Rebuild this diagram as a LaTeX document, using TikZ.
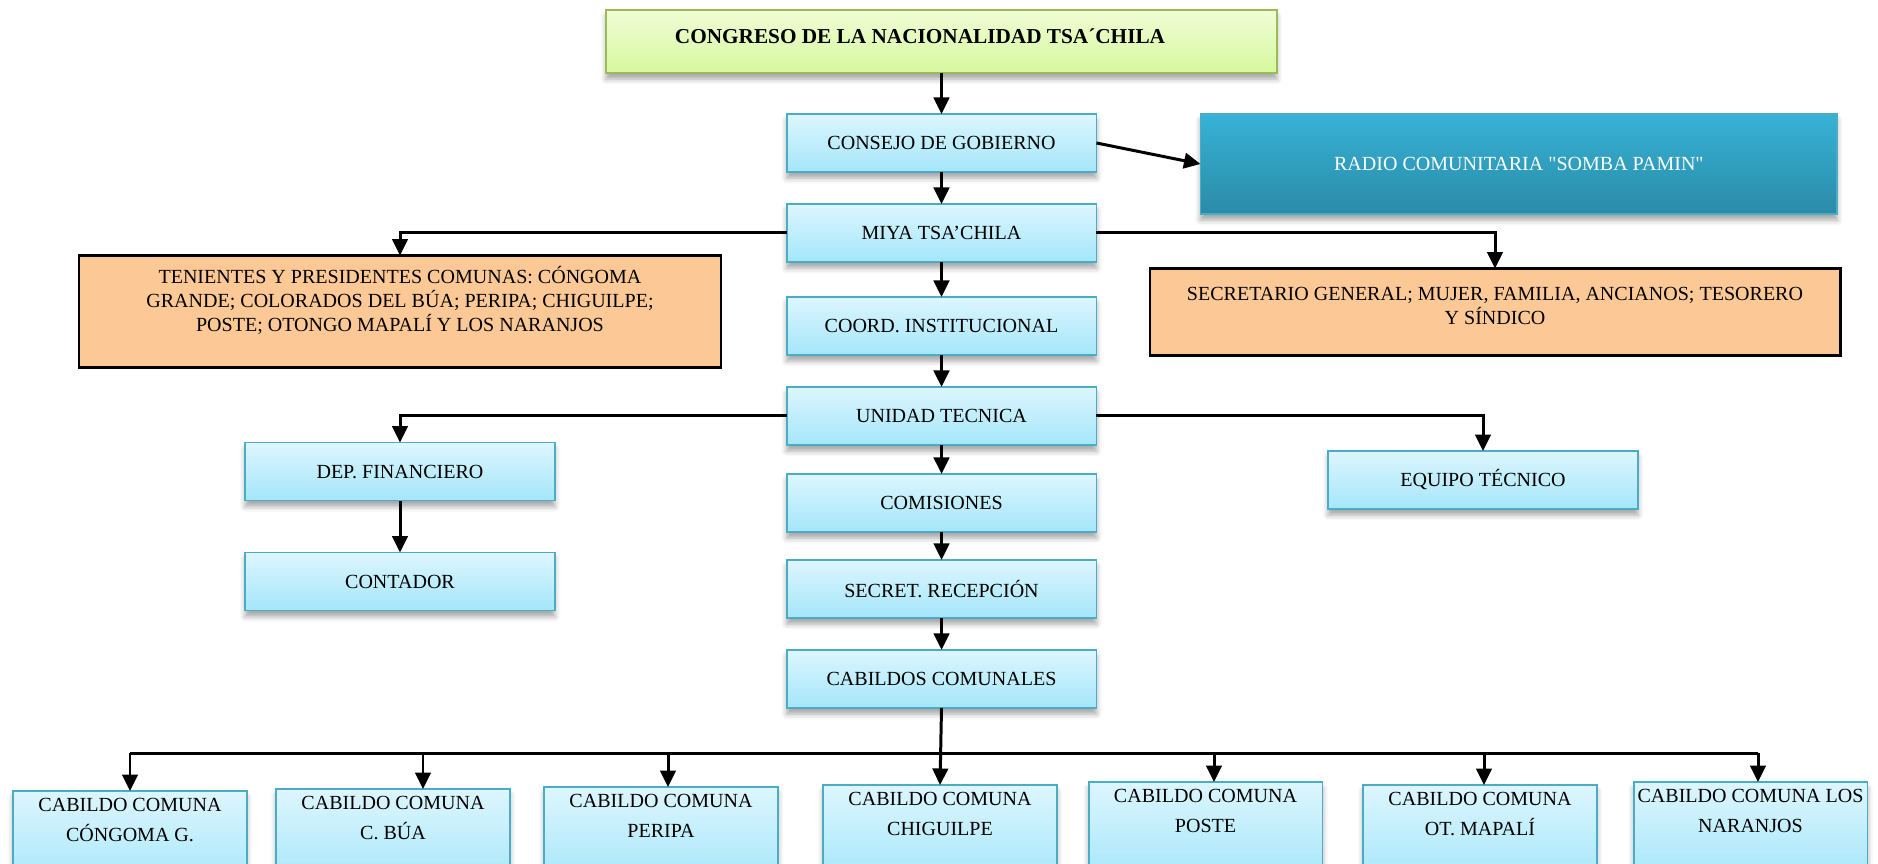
\documentclass[tikz,border=0pt]{standalone}
\usepackage{fontspec}
\setmainfont{Liberation Serif}
\newfontfamily\recta{Liberation Serif}
\usetikzlibrary{positioning,arrows.meta,shadows.blur}
\definecolor{celeste}{HTML}{A4E6FA}
\definecolor{celesteclaro}{HTML}{DDF6FE}
\definecolor{bordeceleste}{HTML}{4BACC6}
\definecolor{limon}{HTML}{D6F89E}
\definecolor{limonclaro}{HTML}{F0FDD6}
\definecolor{bordelimon}{HTML}{9BBB59}
\definecolor{durazno}{HTML}{FCC996}
\definecolor{radioarriba}{HTML}{37B2D6}
\definecolor{radioabajo}{HTML}{2A8BA7}
\tikzset{
  sombra/.style={blur shadow={shadow xshift=0pt,shadow yshift=-3.5pt,shadow blur radius=3pt,shadow opacity=35}},
  caja/.style={rectangle,draw=bordeceleste,line width=1.1pt,top color=celesteclaro,bottom color=celeste,
    minimum width=6.2cm,minimum height=1.16cm,inner sep=0pt,outer sep=0pt,align=center,sombra},
  cabildo/.style={rectangle,draw=bordeceleste,line width=1.1pt,top color=celesteclaro,bottom color=celeste,
    inner sep=0pt,outer sep=0pt,sombra},
  cajanaranja/.style={rectangle,draw=black,line width=1.2pt,fill=durazno,inner sep=0pt,outer sep=0pt},
  flecha/.style={-{Triangle[length=0.33cm,width=0.31cm]},line width=1.7pt},
  linea/.style={line width=1.7pt}
}
\begin{document}
\begin{tikzpicture}[x=0.02cm,y=-0.02cm,font=\fontsize{11.4}{13.7}\selectfont]
\useasboundingbox (0,0) rectangle (1878,863);
% columna central
\node (congreso) [rectangle,draw=bordelimon,line width=1.1pt,top color=limonclaro,bottom color=limon,inner sep=0pt,outer sep=0pt,sombra]
  at (941.5,41.5) {\parbox[c][1.26cm][t]{13.42cm}{\vspace*{0.38cm}\centering\fontsize{12.1}{14}\selectfont\bfseries CONGRESO DE LA NACIONALIDAD TSA´CHILA\hspace*{0.86cm}}};
\node (consejo) [caja, below=0.82cm of congreso] {CONSEJO DE GOBIERNO};
\node (miya) [caja, below=0.64cm of consejo] {MIYA TSA’CHILA};
\node (coord) [caja, below=0.7cm of miya] {COORD. INSTITUCIONAL};
\node (unidad) [caja, below=0.64cm of coord] {UNIDAD TECNICA};
\node (comisiones) [caja, below=0.58cm of unidad] {COMISIONES};
\node (secret) [caja, below=0.56cm of comisiones] {SECRET. RECEPCIÓN};
\node (cabildos) [caja, below=0.64cm of secret] {CABILDOS COMUNALES};
% ramas
\node (radio) [rectangle,draw=bordeceleste,line width=1.1pt,top color=radioarriba,bottom color=radioabajo,
  minimum width=12.74cm,minimum height=2cm,outer sep=0pt,anchor=north west,text=white,sombra]
  at ([xshift=2.08cm]consejo.north east) {\recta RADIO COMUNITARIA "SOMBA PAMIN"};
\node (tenientes) [cajanaranja] at (400,311.5) {\parbox[c][2.24cm][t]{12.84cm}{\vspace*{0.22cm}\centering
  TENIENTES Y PRESIDENTES COMUNAS: CÓNGOMA\\ GRANDE; COLORADOS DEL BÚA; PERIPA; CHIGUILPE;\\ POSTE; OTONGO MAPALÍ Y LOS NARANJOS}};
\node (secretario) [cajanaranja] at (1495,312) {\parbox[c][1.74cm][t]{13.82cm}{\vspace*{0.37cm}\centering
  SECRETARIO GENERAL; MUJER, FAMILIA, ANCIANOS; TESORERO\\ Y SÍNDICO}};
\node (financiero) [caja] at (400,471.5) {DEP. FINANCIERO};
\node (contador) [caja, below=1.04cm of financiero] {CONTADOR};
\node (equipo) [caja] at (1483,480) {EQUIPO TÉCNICO};
% cabildos de cada comuna
\node (cab1) [cabildo,anchor=north] at (130,791) {\parbox[c][2cm][t]{4.68cm}{\vspace*{0.15cm}\centering\fontsize{11.4}{17.1}\selectfont CABILDO COMUNA\\ CÓNGOMA G.}};
\node (cab2) [cabildo,anchor=north] at (393,789) {\parbox[c][2cm][t]{4.68cm}{\vspace*{0.15cm}\centering\fontsize{11.4}{17.1}\selectfont CABILDO COMUNA\\ C. BÚA}};
\node (cab3) [cabildo,anchor=north] at (661,787) {\parbox[c][2cm][t]{4.68cm}{\vspace*{0.15cm}\centering\fontsize{11.4}{17.1}\selectfont CABILDO COMUNA\\ PERIPA}};
\node (cab4) [cabildo,anchor=north] at (940,785) {\parbox[c][2cm][t]{4.68cm}{\vspace*{0.15cm}\centering\fontsize{11.4}{17.1}\selectfont CABILDO COMUNA\\ CHIGUILPE}};
\node (cab5) [cabildo,anchor=north] at (1205.5,782) {\parbox[c][2cm][t]{4.68cm}{\vspace*{0.15cm}\centering\fontsize{11.4}{17.1}\selectfont CABILDO COMUNA\\ POSTE}};
\node (cab6) [cabildo,anchor=north] at (1480,785) {\parbox[c][2cm][t]{4.68cm}{\vspace*{0.15cm}\centering\fontsize{11.4}{17.1}\selectfont CABILDO COMUNA\\ OT. MAPALÍ}};
\node (cab7) [cabildo,anchor=north] at (1750.5,782) {\parbox[c][2cm][t]{4.68cm}{\vspace*{0.15cm}\centering\fontsize{11.4}{17.1}\selectfont CABILDO COMUNA LOS\\ NARANJOS}};
\coordinate (bus) at (0,753);
\coordinate (p2) at ([xshift=0.6cm]cab2.north);
\coordinate (p3) at ([xshift=0.14cm]cab3.north);
\coordinate (p5) at ([xshift=0.17cm]cab5.north);
\coordinate (p6) at ([xshift=0.08cm]cab6.north);
\coordinate (p7) at ([xshift=0.15cm]cab7.north);
% conectores
\draw[flecha] (congreso) -- (consejo);
\draw[flecha] (consejo) -- (miya);
\draw[flecha] (consejo.east) -- (radio.west);
\draw[flecha] (miya) -- (coord);
\draw[flecha] (miya.west) -| (tenientes.north);
\draw[flecha] (miya.east) -| (secretario.north);
\draw[flecha] (coord) -- (unidad);
\draw[flecha] (unidad) -- (comisiones);
\draw[flecha] (unidad.west) -| (financiero.north);
\draw[flecha] (unidad.east) -| (equipo.north);
\draw[flecha] (financiero) -- (contador);
\draw[flecha] (comisiones) -- (secret);
\draw[flecha] (secret) -- (cabildos);
\draw[flecha] (cabildos.south) -- (cab4.north);
\draw[linea] (cab1.north |- bus) -- (p7 |- bus);
\draw[flecha] (cab1.north |- bus) -- (cab1.north);
\draw[flecha] (p2 |- bus) -- (p2);
\draw[flecha] (p3 |- bus) -- (p3);
\draw[flecha] (p5 |- bus) -- (p5);
\draw[flecha] (p6 |- bus) -- (p6);
\draw[flecha] (p7 |- bus) -- (p7);
\end{tikzpicture}
\end{document}
